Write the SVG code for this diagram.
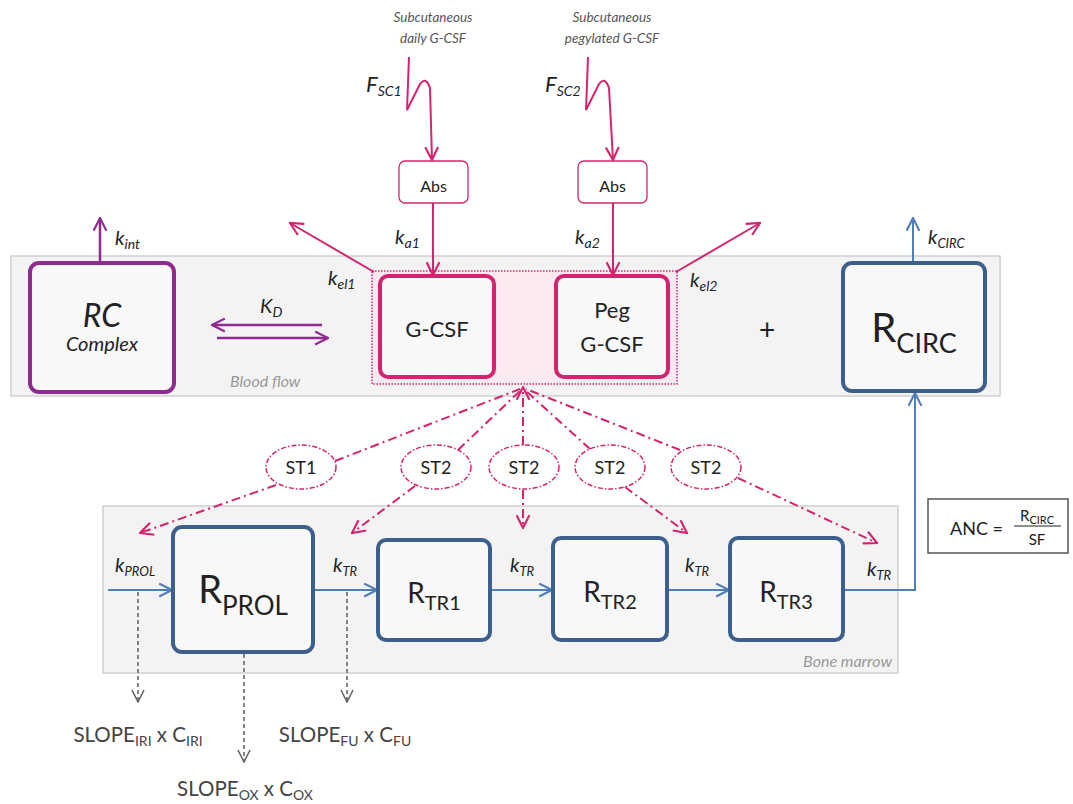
<svg xmlns="http://www.w3.org/2000/svg" width="1073" height="804" viewBox="0 0 1073 804">
<defs>
<style>
text{font-family:Lato,"Liberation Sans",sans-serif;fill:#222}
.it{font-style:italic}
.panel{fill:#f3f3f3;stroke:#d0d0d0;stroke-width:1.5}
.box{fill:#f8f8f9;stroke-width:4}
.pu{stroke:#8e2a90}
.pk{stroke:#d3256f}
.bl{stroke:#3e5f8c}
.pkl{fill:none;stroke:#d3256f;stroke-width:2}
.pul{fill:none;stroke:#8e2a90;stroke-width:2.5}
.bll{fill:none;stroke:#4f7fbb;stroke-width:2}
.dd{fill:none;stroke:#d3256f;stroke-width:2;stroke-dasharray:9 4 2 4}
.gd{fill:none;stroke:#666;stroke-width:1.6;stroke-dasharray:4 3}
.ell{fill:#fff;stroke:#d3256f;stroke-width:1.5;stroke-dasharray:5 2 1.5 2}
.lbl{font-size:13.5px;fill:#555;font-style:italic}
.gray{fill:#999;font-style:italic;font-size:16px}
.slope{font-size:20.5px;fill:#444}
</style>
<marker id="mpk" viewBox="0 0 14 14" refX="13" refY="7" markerWidth="15" markerHeight="15" markerUnits="userSpaceOnUse" orient="auto"><path d="M1,1 L13,7 L1,13" fill="none" stroke="#d3256f" stroke-width="2"/></marker>
<marker id="mpu" viewBox="0 0 14 14" refX="13" refY="7" markerWidth="15" markerHeight="15" markerUnits="userSpaceOnUse" orient="auto"><path d="M1,1 L13,7 L1,13" fill="none" stroke="#8e2a90" stroke-width="2"/></marker>
<marker id="mbl" viewBox="0 0 14 14" refX="13" refY="7" markerWidth="15" markerHeight="15" markerUnits="userSpaceOnUse" orient="auto"><path d="M1,1 L13,7 L1,13" fill="none" stroke="#4f7fbb" stroke-width="2"/></marker>
<marker id="mgr" viewBox="0 0 14 14" refX="13" refY="7" markerWidth="14" markerHeight="14" markerUnits="userSpaceOnUse" orient="auto"><path d="M1,1 L13,7 L1,13" fill="none" stroke="#666" stroke-width="1.6"/></marker>
</defs>
<rect width="1073" height="804" fill="#fff"/>

<g id="panels">
<rect class="panel" x="11" y="256" width="989" height="140"/>
<text class="gray" x="230" y="387">Blood flow</text>
<rect class="panel" x="103" y="506" width="795" height="167"/>
<text class="gray" x="892" y="667" text-anchor="end">Bone marrow</text>
<rect x="372" y="271" width="305" height="113" fill="#fbe9f1" stroke="#d3256f" stroke-width="1.5" stroke-dasharray="1.5 1.5"/>
</g>

<g id="connectors">
<path class="pkl" d="M409,57 L407,110 L420,84 Q426,76 430,88 L432,160" marker-end="url(#mpk)"/>
<path class="pkl" d="M588,57 L586,110 L599,84 Q605,76 609,88 L613,160" marker-end="url(#mpk)"/>
<line class="pkl" x1="433" y1="203" x2="433" y2="275" marker-end="url(#mpk)"/>
<line class="pkl" x1="613" y1="203" x2="613" y2="275" marker-end="url(#mpk)"/>
<line class="pkl" x1="374" y1="272" x2="290" y2="223" marker-end="url(#mpk)"/>
<line class="pkl" x1="676" y1="272" x2="760" y2="223" marker-end="url(#mpk)"/>
<line class="pul" x1="100" y1="263" x2="100" y2="218" marker-end="url(#mpu)"/>
<line class="pul" x1="322" y1="325" x2="212" y2="325" marker-end="url(#mpu)"/>
<line class="pul" x1="217" y1="338" x2="328" y2="338" marker-end="url(#mpu)"/>
<line class="bll" x1="913" y1="263" x2="913" y2="218" marker-end="url(#mbl)"/>
<line class="dd" x1="523" y1="445" x2="523" y2="387" marker-end="url(#mpk)"/>
<line class="dd" x1="335" y1="461" x2="520" y2="389"/>
<line class="dd" x1="458" y1="450" x2="521" y2="390"/>
<line class="dd" x1="590" y1="449" x2="525" y2="390"/>
<line class="dd" x1="680" y1="450" x2="526" y2="389"/>
<line class="dd" x1="276" y1="485" x2="140" y2="533" marker-end="url(#mpk)"/>
<line class="dd" x1="415" y1="486" x2="352" y2="533" marker-end="url(#mpk)"/>
<line class="dd" x1="523" y1="490" x2="523" y2="528" marker-end="url(#mpk)"/>
<line class="dd" x1="625" y1="487" x2="687" y2="533" marker-end="url(#mpk)"/>
<line class="dd" x1="738" y1="478" x2="877" y2="543" marker-end="url(#mpk)"/>
<line class="bll" x1="108" y1="590" x2="172" y2="590" marker-end="url(#mbl)"/>
<line class="bll" x1="315" y1="590" x2="377" y2="590" marker-end="url(#mbl)"/>
<line class="bll" x1="492" y1="590" x2="552" y2="590" marker-end="url(#mbl)"/>
<line class="bll" x1="669" y1="590" x2="729" y2="590" marker-end="url(#mbl)"/>
<path class="bll" d="M845,590 L915,590 L915,393" marker-end="url(#mbl)"/>
<line class="gd" x1="138" y1="592" x2="138" y2="702" marker-end="url(#mgr)"/>
<line class="gd" x1="244" y1="654" x2="244" y2="762" marker-end="url(#mgr)"/>
<line class="gd" x1="347" y1="592" x2="347" y2="702" marker-end="url(#mgr)"/>
</g>

<g id="inputs">
<text class="lbl" x="433" y="22" text-anchor="middle">Subcutaneous</text>
<text class="lbl" x="433" y="43" text-anchor="middle">daily G-CSF</text>
<text class="lbl" x="612" y="22" text-anchor="middle">Subcutaneous</text>
<text class="lbl" x="612" y="43" text-anchor="middle">pegylated G-CSF</text>
<text class="it" x="366" y="92" font-size="22">F<tspan font-size="14" dy="4">SC1</tspan></text>
<text class="it" x="545" y="92" font-size="22">F<tspan font-size="14" dy="4">SC2</tspan></text>
</g>

<g id="abs1">
<rect x="399" y="161" width="69" height="42" rx="6" fill="#fff" stroke="#d3256f" stroke-width="1.3"/>
<text x="433.5" y="192" font-size="16" text-anchor="middle">Abs</text>
</g>
<g id="abs2">
<rect x="578" y="161" width="69" height="42" rx="6" fill="#fff" stroke="#d3256f" stroke-width="1.3"/>
<text x="612.5" y="192" font-size="16" text-anchor="middle">Abs</text>
</g>

<g id="labels">
<text class="it" x="115" y="245" font-size="20">k<tspan font-size="14" dy="4">int</tspan></text>
<text class="it" x="260" y="313" font-size="20">K<tspan font-size="14" dy="4">D</tspan></text>
<text class="it" x="328" y="285" font-size="20">k<tspan font-size="14" dy="4">el1</tspan></text>
<text class="it" x="690" y="287" font-size="20">k<tspan font-size="14" dy="4">el2</tspan></text>
<text class="it" x="395" y="244" font-size="20">k<tspan font-size="14" dy="4">a1</tspan></text>
<text class="it" x="575" y="244" font-size="20">k<tspan font-size="14" dy="4">a2</tspan></text>
<text class="it" x="928" y="244" font-size="20">k<tspan font-size="13" dy="4">CIRC</tspan></text>
<text x="767" y="340" font-size="28" text-anchor="middle">+</text>
<text class="it" x="115" y="572" font-size="20">k<tspan font-size="13" dy="4">PROL</tspan></text>
<text class="it" x="333" y="572" font-size="20">k<tspan font-size="13" dy="4">TR</tspan></text>
<text class="it" x="510" y="572" font-size="20">k<tspan font-size="13" dy="4">TR</tspan></text>
<text class="it" x="685" y="572" font-size="20">k<tspan font-size="13" dy="4">TR</tspan></text>
<text class="it" x="867" y="576" font-size="20">k<tspan font-size="13" dy="4">TR</tspan></text>
</g>

<g id="rc">
<rect class="box pu" x="30" y="263" width="144" height="129" rx="9"/>
<text class="it" x="102" y="327" font-size="32" text-anchor="middle">RC</text>
<text class="it" x="102" y="351" font-size="20" text-anchor="middle">Complex</text>
</g>

<g id="gcsf">
<rect class="box pk" x="380" y="276" width="114" height="101" rx="8" fill="#fdf2f7"/>
<text x="437" y="337" font-size="22" text-anchor="middle">G-CSF</text>
</g>
<g id="peggcsf">
<rect class="box pk" x="556" y="276" width="112" height="101" rx="8" fill="#fdf2f7"/>
<text x="612" y="318" font-size="22" text-anchor="middle">Peg</text>
<text x="612" y="352" font-size="22" text-anchor="middle">G-CSF</text>
</g>

<g id="rcirc">
<rect class="box bl" x="843" y="263" width="142" height="128" rx="9"/>
<text x="914" y="342" font-size="40" text-anchor="middle">R<tspan font-size="27" dy="11">CIRC</tspan></text>
</g>

<g id="st">
<ellipse class="ell" cx="301" cy="467" rx="35" ry="22"/>
<text x="301" y="474" font-size="18" text-anchor="middle">ST1</text>
<ellipse class="ell" cx="436" cy="467" rx="35" ry="22"/>
<text x="436" y="474" font-size="18" text-anchor="middle">ST2</text>
<ellipse class="ell" cx="524" cy="467" rx="35" ry="22"/>
<text x="524" y="474" font-size="18" text-anchor="middle">ST2</text>
<ellipse class="ell" cx="610" cy="467" rx="35" ry="22"/>
<text x="610" y="474" font-size="18" text-anchor="middle">ST2</text>
<ellipse class="ell" cx="706" cy="467" rx="35" ry="22"/>
<text x="706" y="474" font-size="18" text-anchor="middle">ST2</text>
</g>

<g id="rprol">
<rect class="box bl" x="173" y="527" width="140" height="125" rx="9"/>
<text x="243" y="603" font-size="38" text-anchor="middle">R<tspan font-size="26" dy="12">PROL</tspan></text>
</g>
<g id="rtr1">
<rect class="box bl" x="378" y="540" width="112" height="100" rx="8"/>
<text x="434" y="603" font-size="28" text-anchor="middle">R<tspan font-size="20" dy="7">TR1</tspan></text>
</g>
<g id="rtr2">
<rect class="box bl" x="553" y="538" width="114" height="102" rx="8"/>
<text x="610" y="602" font-size="28" text-anchor="middle">R<tspan font-size="20" dy="7">TR2</tspan></text>
</g>
<g id="rtr3">
<rect class="box bl" x="730" y="538" width="113" height="102" rx="8"/>
<text x="786" y="602" font-size="28" text-anchor="middle">R<tspan font-size="20" dy="7">TR3</tspan></text>
</g>

<g id="anc">
<rect x="928" y="499" width="140" height="54" fill="#fff" stroke="#555" stroke-width="1.5"/>
<text x="950" y="535" font-size="18">ANC =</text>
<text x="1037" y="521" font-size="15" text-anchor="middle">R<tspan font-size="11" dy="3">CIRC</tspan></text>
<line x1="1014" y1="526" x2="1061" y2="526" stroke="#222" stroke-width="1.2"/>
<text x="1037" y="545" font-size="15" text-anchor="middle">SF</text>
</g>

<g id="slopes">
<text class="slope" x="138" y="742" text-anchor="middle">SLOPE<tspan font-size="14" dy="4">IRI</tspan><tspan dy="-4"> x C</tspan><tspan font-size="14" dy="4">IRI</tspan></text>
<text class="slope" x="345" y="742" text-anchor="middle">SLOPE<tspan font-size="14" dy="4">FU</tspan><tspan dy="-4"> x C</tspan><tspan font-size="14" dy="4">FU</tspan></text>
<text class="slope" x="245" y="796" text-anchor="middle">SLOPE<tspan font-size="14" dy="4">OX</tspan><tspan dy="-4"> x C</tspan><tspan font-size="14" dy="4">OX</tspan></text>
</g>
</svg>
